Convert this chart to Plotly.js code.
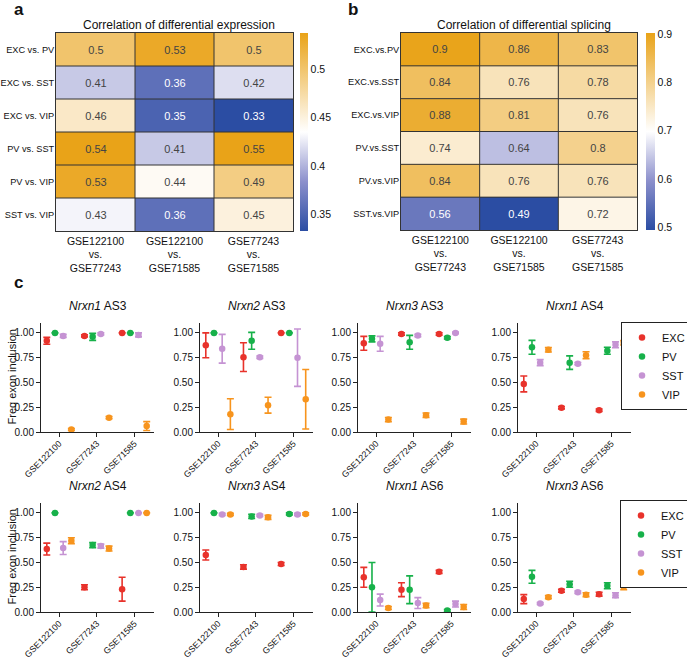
<!DOCTYPE html>
<html><head><meta charset="utf-8">
<script src="https://cdn.plot.ly/plotly-3.0.1.min.js"></script>
<style>html,body{margin:0;padding:0;background:#fff}#chart{width:687px;height:662px}</style>
</head><body><div id="chart"></div>
<script>
// ---- Heatmap data ----
const heatCols = ['GSE122100<br>vs.<br>GSE77243', 'GSE122100<br>vs.<br>GSE71585', 'GSE77243<br>vs.<br>GSE71585'];
const rowsA = ['EXC vs. PV', 'EXC vs. SST', 'EXC vs. VIP', 'PV vs. SST', 'PV vs. VIP', 'SST vs. VIP'];
const rowsB = ['EXC.vs.PV', 'EXC.vs.SST', 'EXC.vs.VIP', 'PV.vs.SST', 'PV.vs.VIP', 'SST.vs.VIP'];
const zA = [[0.5, 0.53, 0.5], [0.41, 0.36, 0.42], [0.46, 0.35, 0.33], [0.54, 0.41, 0.55], [0.53, 0.44, 0.49], [0.43, 0.36, 0.45]];
const zB = [[0.9, 0.86, 0.83], [0.84, 0.76, 0.78], [0.88, 0.81, 0.76], [0.74, 0.64, 0.8], [0.84, 0.76, 0.76], [0.56, 0.49, 0.72]];
const ticksA = [0.35, 0.4, 0.45, 0.5];
const ticksB = [0.5, 0.6, 0.7, 0.8, 0.9];

// ---- Exon inclusion data (rows: EXC, PV, SST, VIP; cols: datasets) ----
const datasets = ['GSE122100', 'GSE77243', 'GSE71585'];
const cellTypes = ['EXC', 'PV', 'SST', 'VIP'];
const panelTitles = ['<i>Nrxn1</i> AS3', '<i>Nrxn2</i> AS3', '<i>Nrxn3</i> AS3', '<i>Nrxn1</i> AS4',
                     '<i>Nrxn2</i> AS4', '<i>Nrxn3</i> AS4', '<i>Nrxn1</i> AS6', '<i>Nrxn3</i> AS6'];
const nrxn1AS3 = [[0.92, 0.97, 1.00], [1.00, 0.96, 1.00], [0.97, 0.99, 0.98], [0.025, 0.145, 0.06]];
const nrxn1AS3Err = [[0.035, 0.01, 0], [0, 0.035, 0], [0.015, 0.01, 0.02], [0.01, 0.012, 0.045]];
const nrxn2AS3 = [[0.875, 0.755, 1.0], [1.0, 0.92, 1.0], [0.84, 0.755, 0.75], [0.18, 0.27, 0.33]];
const nrxn2AS3Err = [[0.125, 0.145, 0], [0, 0.085, 0], [0.145, 0.012, 0.29], [0.155, 0.08, 0.30]];
const nrxn3AS3 = [[0.895, 0.99, 0.99], [0.94, 0.905, 0.95], [0.89, 0.975, 1.0], [0.125, 0.17, 0.105]];
const nrxn3AS3Err = [[0.07, 0.012, 0.012], [0.03, 0.07, 0.012], [0.075, 0.012, 0.008], [0.022, 0.022, 0.025]];
const nrxn1AS4 = [[0.485, 0.245, 0.22], [0.855, 0.70, 0.82], [0.70, 0.69, 0.88], [0.83, 0.775, 0.90]];
const nrxn1AS4Err = [[0.08, 0.012, 0.012], [0.07, 0.068, 0.035], [0.03, 0.012, 0.03], [0.022, 0.035, 0.022]];
const nrxn2AS4 = [[0.635, 0.25, 0.23], [1.0, 0.675, 1.0], [0.645, 0.665, 1.0], [0.72, 0.64, 1.0]];
const nrxn2AS4Err = [[0.06, 0.025, 0.12], [0, 0.025, 0], [0.065, 0.02, 0], [0.03, 0.025, 0]];
const nrxn3AS4 = [[0.575, 0.455, 0.485], [1.0, 0.965, 0.99], [0.985, 0.975, 0.985], [0.985, 0.955, 0.99]];
const nrxn3AS4Err = [[0.05, 0.022, 0.015], [0, 0.022, 0.01], [0.01, 0.01, 0.01], [0.01, 0.02, 0.01]];
const nrxn1AS6 = [[0.35, 0.225, 0.405], [0.25, 0.225, 0.015], [0.12, 0.09, 0.08], [0.04, 0.065, 0.05]];
const nrxn1AS6Err = [[0.10, 0.07, 0.015], [0.25, 0.14, 0.01], [0.06, 0.055, 0.03], [0.015, 0.022, 0.025]];
const nrxn3AS6 = [[0.13, 0.215, 0.18], [0.355, 0.28, 0.265], [0.085, 0.20, 0.17], [0.15, 0.175, 0.255]];
const nrxn3AS6Err = [[0.045, 0.015, 0.02], [0.065, 0.03, 0.03], [0.01, 0.012, 0.025], [0.015, 0.02, 0.03]];

const panelMeans = [nrxn1AS3, nrxn2AS3, nrxn3AS3, nrxn1AS4, nrxn2AS4, nrxn3AS4, nrxn1AS6, nrxn3AS6];
const panelErrs = [nrxn1AS3Err, nrxn2AS3Err, nrxn3AS3Err, nrxn1AS4Err, nrxn2AS4Err, nrxn3AS4Err, nrxn1AS6Err, nrxn3AS6Err];

// ---- styling ----
const W = 687, H = 662;
const FONT = 'Liberation Sans, Arial, sans-serif';
const typeColors = ['#E8322B', '#17B14A', '#C593D3', '#F7941D'];
const cscale = [[0, '#2B4DA3'], [0.25, '#8C90CC'], [0.5, '#FFFFFF'], [0.75, '#F4D18C'], [1, '#E9A318']];
const px = v => v / W;
const py = v => 1 - v / H;

const data = [];
const layout = {
  width: W, height: H,
  margin: {l: 0, r: 0, t: 0, b: 0, autoexpand: false},
  paper_bgcolor: '#fff', plot_bgcolor: '#fff',
  font: {family: FONT, size: 11, color: '#111'},
  scattermode: 'group', scattergap: 0.13,
  shapes: [], annotations: [],
};

// Heatmaps
function addHeat(idx, rows, z, zmin, zmax, ticks, xd, yd, cbx, cbThick) {
  const xa = idx === 1 ? 'x' : 'x' + idx, ya = idx === 1 ? 'y' : 'y' + idx;
  data.push({
    type: 'heatmap', x: heatCols, y: rows, z: z, xaxis: xa, yaxis: ya,
    zmin: zmin, zmax: zmax, colorscale: cscale,
    texttemplate: '%{z}', textfont: {size: 11, family: FONT},
    hoverinfo: 'skip',
    colorbar: {x: cbx, xanchor: 'left', xpad: 0, ypad: 0, y: yd[1], yanchor: 'top',
      len: yd[1] - yd[0], lenmode: 'fraction', thickness: cbThick, outlinewidth: 0,
      tickvals: ticks, ticks: '', tickfont: {size: 10.5, family: FONT}}
  });
  const kx = idx === 1 ? 'xaxis' : 'xaxis' + idx, ky = idx === 1 ? 'yaxis' : 'yaxis' + idx;
  layout[kx] = {domain: xd, anchor: ya, type: 'category', showline: true, mirror: true,
    linecolor: '#333', linewidth: 1, ticks: '', showgrid: false, zeroline: false, fixedrange: true,
    tickfont: {size: 10.5}};
  layout[ky] = {domain: yd, anchor: xa, type: 'category', autorange: 'reversed', showline: true,
    mirror: true, linecolor: '#333', linewidth: 1, ticks: '', showgrid: false, zeroline: false,
    tickfont: {size: 9.2}, ticklabelstandoff: -1};
  for (let i = 1; i < heatCols.length; i++)
    layout.shapes.push({type: 'line', xref: xa, yref: ya + ' domain', x0: i - 0.5, x1: i - 0.5, y0: 0, y1: 1,
      line: {color: '#333', width: 1}, layer: 'above'});
  for (let j = 1; j < rows.length; j++)
    layout.shapes.push({type: 'line', xref: xa + ' domain', yref: ya, x0: 0, x1: 1, y0: j - 0.5, y1: j - 0.5,
      line: {color: '#333', width: 1}, layer: 'above'});
}
addHeat(1, rowsA, zA, 0.333, 0.537, ticksA, [px(56), px(293)], [py(231), py(33)], px(300), 8);
addHeat(2, rowsB, zB, 0.494, 0.903, ticksB, [px(401), px(637)], [py(230), py(33)], px(646), 9);

layout.annotations.push(
  {text: 'Correlation of differential expression', xref: 'x domain', yref: 'paper', x: 0.52, y: py(25),
   showarrow: false, font: {size: 12}, xanchor: 'center', yanchor: 'middle'},
  {text: 'Correlation of differential splicing', xref: 'x2 domain', yref: 'paper', x: 0.52, y: py(25),
   showarrow: false, font: {size: 12}, xanchor: 'center', yanchor: 'middle'},
  {text: '<b>a</b>', xref: 'paper', yref: 'paper', x: px(12), y: py(10), showarrow: false,
   font: {size: 17}, xanchor: 'left', yanchor: 'middle'},
  {text: '<b>b</b>', xref: 'paper', yref: 'paper', x: px(346), y: py(10), showarrow: false,
   font: {size: 17}, xanchor: 'left', yanchor: 'middle'},
  {text: '<b>c</b>', xref: 'paper', yref: 'paper', x: px(12), y: py(283), showarrow: false,
   font: {size: 17}, xanchor: 'left', yanchor: 'middle'}
);

// Scatter panels
const colLeft = [41, 200, 358, 518];
const panelW = 113;
const rowTop = [323, 503], rowBot = [432, 612], titleY = [306, 486];
for (let p = 0; p < 8; p++) {
  const r = Math.floor(p / 4), c = p % 4;
  const n = p + 3;
  const xa = 'x' + n, ya = 'y' + n;
  for (let t = 0; t < 4; t++) {
    data.push({
      type: 'scatter', mode: 'markers', x: datasets, y: panelMeans[p][t], xaxis: xa, yaxis: ya,
      name: cellTypes[t], legend: r === 0 ? 'legend' : 'legend2', showlegend: c === 0,
      marker: {color: typeColors[t], size: 6.5},
      error_y: {type: 'data', array: panelErrs[p][t], color: typeColors[t], thickness: 1.6, width: 3.5},
      hoverinfo: 'skip'
    });
  }
  layout['xaxis' + n] = {domain: [px(colLeft[c]), px(colLeft[c] + panelW)], anchor: ya, type: 'category',
    categoryarray: datasets, range: [-0.48, 2.52], showline: true, linecolor: '#222', linewidth: 1,
    ticks: 'outside', ticklen: 4, tickcolor: '#222', tickangle: -45, showgrid: false, zeroline: false,
    tickfont: {size: 8.8}, ticklabelstandoff: -2};
  layout['yaxis' + n] = {domain: [py(rowBot[r]), py(rowTop[r])], anchor: xa, range: [0, 1.1],
    tickvals: [0, 0.25, 0.5, 0.75, 1], tickformat: '.2f', showline: true, linecolor: '#222', linewidth: 1,
    ticks: 'outside', ticklen: 4, tickcolor: '#222', showgrid: false, zeroline: false,
    tickfont: {size: 10}};
  if (c === 0) layout.annotations.push({text: 'Freq exon inclusion', xref: 'paper', yref: ya + ' domain',
    x: px(11), y: 0.5, textangle: -90, showarrow: false, font: {size: 11}, xanchor: 'center', yanchor: 'middle'});
  layout.annotations.push({text: panelTitles[p], xref: xa + ' domain', yref: 'paper', x: 0.5, y: py(titleY[r]),
    showarrow: false, font: {size: 12}, xanchor: 'center', yanchor: 'middle'});
}

const legendBase = {xref: 'paper', yref: 'paper', xanchor: 'left', yanchor: 'top', bgcolor: '#fff',
  bordercolor: '#222', borderwidth: 1, font: {size: 11}, itemwidth: 30, tracegroupgap: 0};
layout.legend = Object.assign({}, legendBase, {x: px(621), y: py(322)});
layout.legend2 = Object.assign({}, legendBase, {x: px(620), y: py(500)});

Plotly.newPlot('chart', data, layout, {displayModeBar: false, staticPlot: true});
</script></body></html>
